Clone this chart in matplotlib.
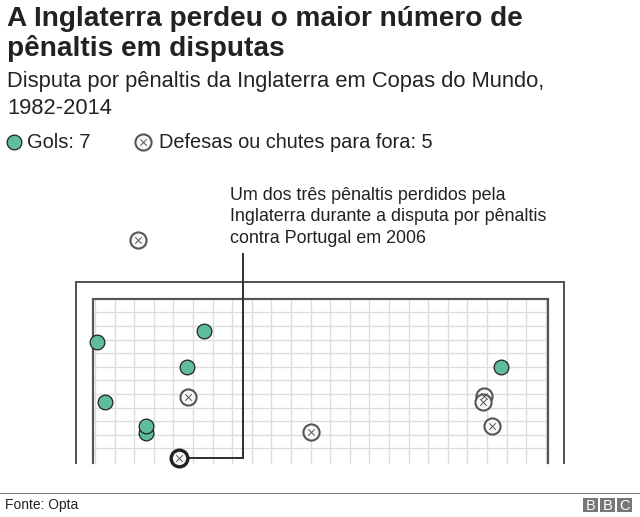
import numpy as np
import matplotlib
matplotlib.use('Agg')
import matplotlib.pyplot as plt
from matplotlib.patches import Rectangle

plt.rcParams['font.family'] = ['Liberation Sans', 'DejaVu Sans']

# Shot positions, in image pixels
goals_x = [204, 96.7, 187.3, 105.3, 146.3, 146.3, 500.7]
goals_y = [330.7, 342.3, 366.7, 402.3, 433.3, 426, 366.7]
missed_x = [138, 188, 311.3, 484, 483.3, 492]
missed_y = [240.3, 396.7, 432.3, 396, 401.7, 425.7]
highlight_x = [179.3]
highlight_y = [457.7]

title_lines = ['A Inglaterra perdeu o maior número de', 'pênaltis em disputas']
subtitle_lines = ['Disputa por pênaltis da Inglaterra em Copas do Mundo,', '1982-2014']
note_lines = ['Um dos três pênaltis perdidos pela',
              'Inglaterra durante a disputa por pênaltis',
              'contra Portugal em 2006']

GREEN = '#5fbd9c'
DARK = '#555555'
GRID = '#dcdcdc'
TEXT = '#222222'
px = 0.72  # points per pixel at dpi 100

fig = plt.figure(figsize=(6.4, 5.17), dpi=100)
ax = fig.add_axes([0, 0, 1, 1])
ax.set_xlim(0, 640)
ax.set_ylim(517, 0)
ax.axis('off')

# Net
for x in np.arange(95, 548, 19.6):
    ax.plot([x, x], [299, 463], color=GRID, lw=1.3 * px, zorder=1)
for y in np.arange(312.3, 452, 13.6):
    ax.plot([93, 546], [y, y], color=GRID, lw=1.3 * px, zorder=1)

# Goal frame
ax.plot([76, 76, 564, 564], [463, 282, 282, 463], color=DARK, lw=2 * px,
        solid_joinstyle='miter', zorder=2)
ax.plot([92.5, 92.5, 548, 548], [463, 299, 299, 463], color=DARK, lw=2.2 * px,
        solid_joinstyle='miter', zorder=2)

# Annotation leader
ax.plot([242.5, 242.5, 186], [254, 457.7, 457.7], color='#333333', lw=2 * px,
        solid_joinstyle='miter', zorder=3)

# Shots
def draw_missed(xs, ys, edge, lw, size):
    ax.scatter(xs, ys, s=size, facecolor='#f7f7f7', edgecolor=edge, linewidth=lw, zorder=5)
    ax.scatter(xs, ys, s=size * 0.16, marker='x', color='#555555', linewidth=0.7, zorder=6)

ax.scatter(goals_x, goals_y, s=112, facecolor=GREEN, edgecolor='#222222', linewidth=0.9, zorder=4)
draw_missed(missed_x, missed_y, DARK, 1.5, 135)
draw_missed(highlight_x, highlight_y, '#222222', 2.4, 144)

# Headline text
for i, line in enumerate(title_lines):
    ax.text(7, 26 + 29.5 * i, line, fontsize=20.2, fontweight='bold', color=TEXT, va='baseline')
for i, line in enumerate(subtitle_lines):
    ax.text(7, 87 + 26.5 * i, line, fontsize=15.75, color=TEXT, va='baseline')

# Legend
ax.scatter([13.7], [141.7], s=112, facecolor=GREEN, edgecolor='#222222', linewidth=0.9, zorder=4)
ax.text(27, 148.5, 'Gols: 7', fontsize=14.4, color=TEXT, va='baseline')
draw_missed([143], [141.7], DARK, 1.5, 135)
ax.text(159, 148.5, 'Defesas ou chutes para fora: 5', fontsize=14.4, color=TEXT, va='baseline')

# Note
for i, line in enumerate(note_lines):
    ax.text(230, 200 + 21.4 * i, line, fontsize=12.9, color=TEXT, va='baseline')

# Footer
ax.plot([0, 640], [493, 493], color='#777777', lw=1 * px)
ax.text(5, 509.3, 'Fonte: Opta', fontsize=10, color=TEXT, va='baseline')
for x, letter in zip([583, 600, 617], 'BBC'):
    ax.add_patch(Rectangle((x, 498), 15, 14, facecolor='#777777', edgecolor='none'))
    ax.text(x + 7.5, 505.5, letter, fontsize=10.5, color='white', ha='center', va='center')

fig.savefig('out.png', dpi=100)
